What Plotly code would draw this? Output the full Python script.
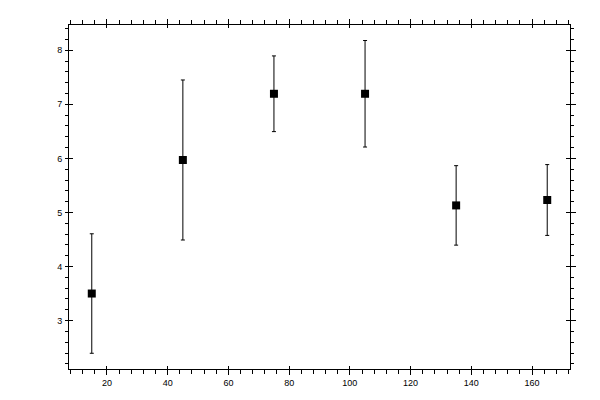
import plotly.graph_objects as go

# data
x_vals = [15, 45, 75, 105, 135, 165]
y_vals = [3.50, 5.97, 7.195, 7.195, 5.13, 5.23]
y_err = [1.105, 1.48, 0.70, 0.985, 0.735, 0.655]

x_range = [7.5, 172.5]
y_range = [2.104, 8.467]

tick_font = dict(family="Liberation Sans, Arial, sans-serif", size=9, color="black")

fig = go.Figure()

fig.add_trace(go.Scatter(
    x=x_vals, y=y_vals,
    mode="markers",
    marker=dict(symbol="square", size=8, color="black"),
    error_y=dict(type="data", array=y_err, visible=True,
                 color="black", thickness=1, width=2),
    showlegend=False,
    hoverinfo="skip",
))

# invisible copy so the overlay axes (for crossing ticks) get drawn
fig.add_trace(go.Scatter(
    x=x_vals, y=y_vals, xaxis="x2", yaxis="y2",
    mode="markers", marker=dict(opacity=0),
    showlegend=False, hoverinfo="skip",
))

# page body adds 8px, so margins are offset by that
fig.update_layout(
    width=600, height=400,
    margin=dict(l=61, r=38, t=11, b=39),
    paper_bgcolor="white",
    plot_bgcolor="white",
    showlegend=False,
    xaxis=dict(
        range=x_range, dtick=20, tick0=0,
        showgrid=False, zeroline=False,
        showline=True, linecolor="black", linewidth=1, mirror="allticks",
        ticks="outside", ticklen=5, tickwidth=1, tickcolor="black",
        minor=dict(dtick=4, tick0=0, ticks="outside", ticklen=4,
                   tickcolor="black", tickwidth=1, showgrid=False),
        tickfont=tick_font,
    ),
    xaxis2=dict(
        range=x_range, dtick=20, tick0=0, overlaying="x", anchor="y2",
        showgrid=False, zeroline=False, showline=False, mirror="ticks",
        ticks="inside", ticklen=3, tickwidth=1, tickcolor="black",
        showticklabels=False,
    ),
    yaxis=dict(
        range=y_range, dtick=1, tick0=0,
        showgrid=False, zeroline=False,
        showline=True, linecolor="black", linewidth=1, mirror="allticks",
        ticks="inside", ticklen=4, tickwidth=1, tickcolor="black",
        minor=dict(dtick=0.2, tick0=0, ticks="outside", ticklen=3,
                   tickcolor="black", tickwidth=1, showgrid=False),
        tickfont=tick_font,
        ticklabelstandoff=4,
    ),
    yaxis2=dict(
        range=y_range, dtick=1, tick0=0, overlaying="y", side="right",
        anchor="x2",
        showgrid=False, zeroline=False, showline=False,
        ticks="outside", ticklen=5, tickwidth=1, tickcolor="black",
        showticklabels=False,
    ),
)

fig.write_html("out.html")
